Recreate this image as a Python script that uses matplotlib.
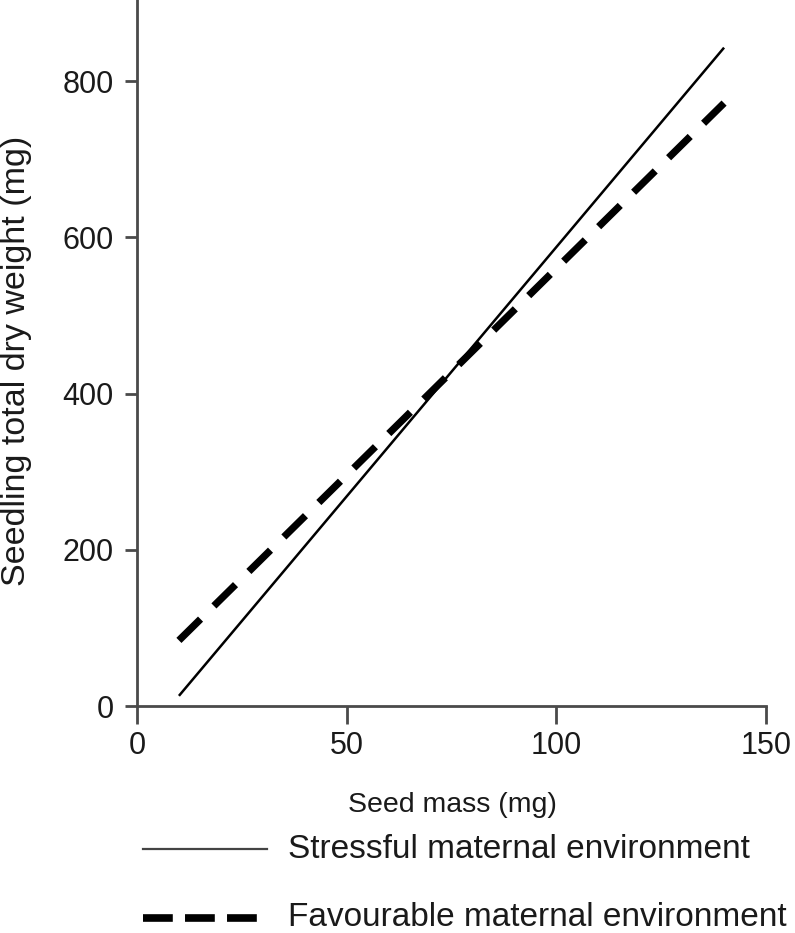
import matplotlib
matplotlib.use("Agg")
import matplotlib.pyplot as plt
from matplotlib.lines import Line2D

plt.rcParams['font.family'] = ['Liberation Sans', 'DejaVu Sans']

seed_mass = [10, 140]
stressful = [13, 843]
favourable = [84, 772]
series_labels = ["Stressful maternal environment", "Favourable maternal environment"]
xticks = [0, 50, 100, 150]
yticks = [0, 200, 400, 600, 800]

W, H = 795, 933
fig = plt.figure(figsize=(W/100, H/100), dpi=100)
ax = fig.add_axes([137/W, 1-706/H, (766-137)/W, 706/H])

spine_col = '#4a4a4a'
text_col = '#1a1a1a'
ax.plot(seed_mass, stressful, color='black', lw=1.8, solid_capstyle='butt')
ax.plot(seed_mass, favourable, color='black', lw=5.2, dashes=(4.2, 2.6), dash_capstyle='butt')

ax.set_xlim(0, 150)
ax.set_ylim(0, 904)
ax.set_xticks(xticks)
ax.set_yticks(yticks)
for s in ['top', 'right']:
    ax.spines[s].set_visible(False)
for s in ['left', 'bottom']:
    ax.spines[s].set_color(spine_col)
    ax.spines[s].set_linewidth(2)
ax.tick_params(axis='both', direction='out', width=2, color=spine_col,
               labelsize=22, labelcolor=text_col)
ax.tick_params(axis='x', length=13, pad=5)
ax.tick_params(axis='y', length=9, pad=8)

fig.text(452/W, 1-812/H, "Seed mass (mg)", fontsize=20.5, color=text_col,
         ha='center', va='baseline')
fig.text(17/W, 1-361/H, "Seedling total dry weight (mg)", fontsize=24.5, color=text_col,
         ha='center', va='center', rotation=90)

# legend drawn below in figure coordinates
fig.add_artist(Line2D([143/W, 267/W], [1-849/H, 1-849/H], color='#444444', lw=1.6))
fig.add_artist(Line2D([143/W, 258/W], [1-918/H, 1-918/H], color='black', lw=5.5,
                      dashes=(3.9, 1.6), dash_capstyle='butt'))
fig.text(288/W, 1-849/H, series_labels[0], fontsize=24, color=text_col, va='center', ha='left')
fig.text(288/W, 1-918/H, series_labels[1], fontsize=24, color=text_col, va='center', ha='left')

fig.savefig("out.png", dpi=100)
